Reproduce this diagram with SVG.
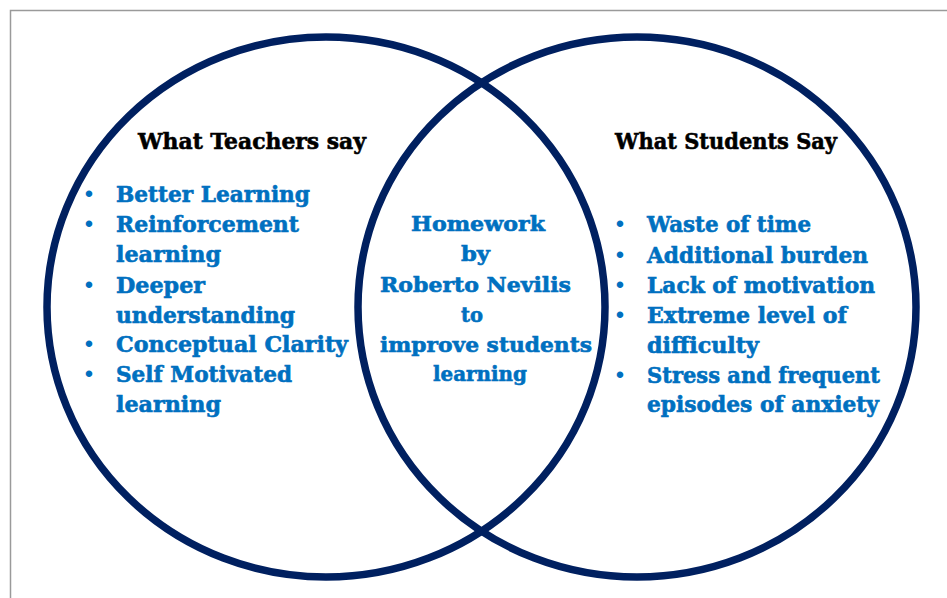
<svg xmlns="http://www.w3.org/2000/svg" width="947" height="598" viewBox="0 0 947 598">
<style>
.ring{fill:none;stroke:#002060;stroke-width:7.5}
.frame{fill:none;stroke:#9a9a9a;stroke-width:1.5}
.h{font-family:"DejaVu Serif","Liberation Serif",serif;font-weight:bold;font-size:23px;fill:#000;stroke:#000;stroke-width:0.6}
.t{font-family:"DejaVu Serif","Liberation Serif",serif;font-weight:bold;font-size:22px;fill:#0070C0;stroke:#0070C0;stroke-width:0.6}
.m{font-family:"DejaVu Serif","Liberation Serif",serif;font-weight:bold;font-size:21px;fill:#0070C0;stroke:#0070C0;stroke-width:0.6}
.b{font-family:"Liberation Sans",Arial,sans-serif;font-size:24px;fill:#0070C0;text-anchor:middle}
</style>
<rect width="947" height="598" fill="#fff"/>
<path class="frame" d="M10.5 598 V10.5 H947"/>
<g id="teachers">
<ellipse class="ring" cx="326" cy="307" rx="279" ry="270"/>
<text class="h" x="138" y="149" textLength="228" lengthAdjust="spacingAndGlyphs">What Teachers say</text>
<text class="b" x="89" y="202">•</text>
<text class="t" x="116" y="202" textLength="194" lengthAdjust="spacingAndGlyphs">Better Learning</text>
<text class="b" x="89" y="232">•</text>
<text class="t" x="116" y="232" textLength="183" lengthAdjust="spacingAndGlyphs">Reinforcement</text>
<text class="t" x="116" y="262" textLength="105" lengthAdjust="spacingAndGlyphs">learning</text>
<text class="b" x="89" y="293">•</text>
<text class="t" x="116" y="293" textLength="89" lengthAdjust="spacingAndGlyphs">Deeper</text>
<text class="t" x="116" y="323" textLength="179" lengthAdjust="spacingAndGlyphs">understanding</text>
<text class="b" x="89" y="352">•</text>
<text class="t" x="116" y="352" textLength="232" lengthAdjust="spacingAndGlyphs">Conceptual Clarity</text>
<text class="b" x="89" y="382">•</text>
<text class="t" x="116" y="382" textLength="176" lengthAdjust="spacingAndGlyphs">Self Motivated</text>
<text class="t" x="116" y="412" textLength="105" lengthAdjust="spacingAndGlyphs">learning</text>
</g>
<g id="students">
<ellipse class="ring" cx="637" cy="307" rx="279" ry="270"/>
<text class="h" x="615" y="149" textLength="222" lengthAdjust="spacingAndGlyphs">What Students Say</text>
<text class="b" x="620" y="232">•</text>
<text class="t" x="647" y="232" textLength="164" lengthAdjust="spacingAndGlyphs">Waste of time</text>
<text class="b" x="620" y="263">•</text>
<text class="t" x="647" y="263" textLength="221" lengthAdjust="spacingAndGlyphs">Additional burden</text>
<text class="b" x="620" y="293">•</text>
<text class="t" x="647" y="293" textLength="228" lengthAdjust="spacingAndGlyphs">Lack of motivation</text>
<text class="b" x="620" y="323">•</text>
<text class="t" x="647" y="323" textLength="200" lengthAdjust="spacingAndGlyphs">Extreme level of</text>
<text class="t" x="647" y="353" textLength="112" lengthAdjust="spacingAndGlyphs">difficulty</text>
<text class="b" x="620" y="383">•</text>
<text class="t" x="647" y="383" textLength="233" lengthAdjust="spacingAndGlyphs">Stress and frequent</text>
<text class="t" x="647" y="412" textLength="232" lengthAdjust="spacingAndGlyphs">episodes of anxiety</text>
</g>
<g id="homework">
<text class="m" x="411" y="231" textLength="134" lengthAdjust="spacingAndGlyphs">Homework</text>
<text class="m" x="461" y="261" textLength="29" lengthAdjust="spacingAndGlyphs">by</text>
<text class="m" x="380" y="292" textLength="191" lengthAdjust="spacingAndGlyphs">Roberto Nevilis</text>
<text class="m" x="461" y="322" textLength="22" lengthAdjust="spacingAndGlyphs">to</text>
<text class="m" x="380" y="352" textLength="212" lengthAdjust="spacingAndGlyphs">improve students</text>
<text class="m" x="433" y="381" textLength="94" lengthAdjust="spacingAndGlyphs">learning</text>
</g>
</svg>
